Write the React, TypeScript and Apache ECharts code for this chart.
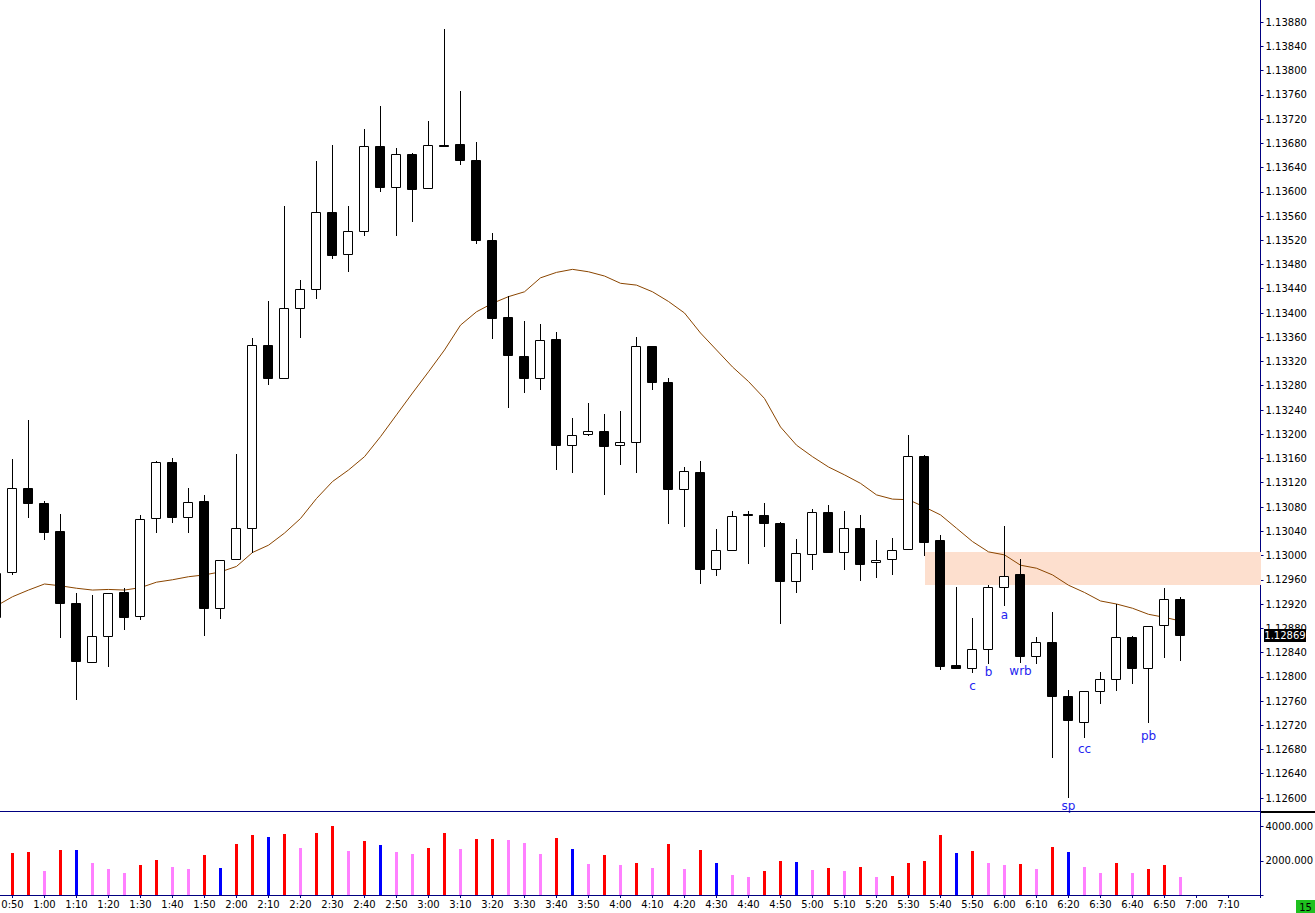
import React, { useEffect, useRef } from "react";
import * as echarts from "echarts";

// ---------- DATA ----------
const times = [
  "0:45", "0:50", "0:55", "1:00", "1:05", "1:10", "1:15", "1:20", "1:25", "1:30",
  "1:35", "1:40", "1:45", "1:50", "1:55", "2:00", "2:05", "2:10", "2:15", "2:20",
  "2:25", "2:30", "2:35", "2:40", "2:45", "2:50", "2:55", "3:00", "3:05", "3:10",
  "3:15", "3:20", "3:25", "3:30", "3:35", "3:40", "3:45", "3:50", "3:55", "4:00",
  "4:05", "4:10", "4:15", "4:20", "4:25", "4:30", "4:35", "4:40", "4:45", "4:50",
  "4:55", "5:00", "5:05", "5:10", "5:15", "5:20", "5:25", "5:30", "5:35", "5:40",
  "5:45", "5:50", "5:55", "6:00", "6:05", "6:10", "6:15", "6:20", "6:25", "6:30",
  "6:35", "6:40", "6:45", "6:50", "6:55",
];

const open = [
  1.12898, 1.12972, 1.13111, 1.13087, 1.1304, 1.12922, 1.12825, 1.12868, 1.1294, 1.129,
  1.13062, 1.13154, 1.13063, 1.1309, 1.12914, 1.12994, 1.13045, 1.13348, 1.13292, 1.13409,
  1.13439, 1.13566, 1.13497, 1.13535, 1.13675, 1.13608, 1.13662, 1.13606, 1.13677, 1.13678,
  1.13653, 1.1352, 1.13393, 1.13329, 1.13292, 1.13357, 1.13183, 1.132, 1.13205, 1.13183,
  1.13188, 1.13345, 1.13286, 1.13109, 1.13138, 1.12977, 1.13009, 1.13068, 1.13066, 1.13054,
  1.12958, 1.13003, 1.13071, 1.13005, 1.13045, 1.12989, 1.12994, 1.1301, 1.13164, 1.13026,
  1.12819, 1.12814, 1.12845, 1.12948, 1.1297, 1.12835, 1.12858, 1.12768, 1.12726, 1.12777,
  1.12796, 1.12865, 1.12815, 1.12885, 1.12928,
];

const high = [
  1.12983, 1.13159, 1.13224, 1.1309, 1.13068, 1.12938, 1.12935, 1.12938, 1.12946, 1.13066,
  1.13156, 1.13161, 1.13111, 1.13099, 1.12992, 1.13167, 1.13358, 1.1342, 1.13577, 1.13454,
  1.13651, 1.13677, 1.13577, 1.13704, 1.13741, 1.13672, 1.13664, 1.13717, 1.13868, 1.13766,
  1.13682, 1.13532, 1.13428, 1.13387, 1.13382, 1.13369, 1.13226, 1.13251, 1.13233, 1.13238,
  1.1336, 1.13345, 1.13292, 1.13146, 1.13156, 1.13044, 1.13073, 1.13073, 1.13087, 1.13055,
  1.13027, 1.13077, 1.13083, 1.13073, 1.13067, 1.13026, 1.13029, 1.13199, 1.13166, 1.13034,
  1.12948, 1.12897, 1.12951, 1.13049, 1.12994, 1.12865, 1.12907, 1.12778, 1.12776, 1.12808,
  1.1292, 1.12867, 1.12883, 1.12946, 1.12932,
];

const low = [
  1.12894, 1.1297, 1.13064, 1.13028, 1.12866, 1.12764, 1.12825, 1.12818, 1.12879, 1.12896,
  1.13038, 1.13056, 1.13039, 1.12869, 1.12897, 1.12994, 1.13006, 1.13283, 1.13292, 1.13361,
  1.13425, 1.13491, 1.1347, 1.13529, 1.13602, 1.13528, 1.13551, 1.13606, 1.13675, 1.13646,
  1.13516, 1.13358, 1.13245, 1.13269, 1.13274, 1.13142, 1.13138, 1.13198, 1.13102, 1.13151,
  1.13137, 1.13274, 1.13053, 1.13048, 1.12954, 1.12968, 1.13009, 1.12988, 1.13015, 1.12889,
  1.12939, 1.12978, 1.13005, 1.12977, 1.1296, 1.12965, 1.1297, 1.1301, 1.13001, 1.12812,
  1.12814, 1.12808, 1.12823, 1.12919, 1.12825, 1.12822, 1.12668, 1.12602, 1.12701, 1.12757,
  1.12778, 1.1279, 1.12726, 1.12833, 1.12828,
];

const close = [
  1.12971, 1.13111, 1.13087, 1.13039, 1.12921, 1.12826, 1.12868, 1.12938, 1.12899, 1.13061,
  1.13154, 1.13064, 1.13089, 1.12914, 1.12992, 1.13045, 1.13348, 1.13292, 1.13409, 1.13439,
  1.13566, 1.13495, 1.13535, 1.13675, 1.13608, 1.13663, 1.13605, 1.13677, 1.13677, 1.13653,
  1.1352, 1.13391, 1.1333, 1.13292, 1.13355, 1.13183, 1.13198, 1.13205, 1.13181, 1.13188,
  1.13345, 1.13287, 1.13109, 1.13139, 1.12978, 1.13009, 1.13065, 1.13066, 1.13054, 1.12958,
  1.13004, 1.13071, 1.13005, 1.13045, 1.12986, 1.12992, 1.13009, 1.13164, 1.13023, 1.12817,
  1.12814, 1.12845, 1.12948, 1.12967, 1.12835, 1.12858, 1.12769, 1.12728, 1.12776, 1.12796,
  1.12865, 1.12815, 1.12883, 1.12928, 1.12869,
];

const movingAverage = [
  1.12917, 1.12932, 1.12943, 1.12953, 1.1295, 1.12946, 1.12943, 1.12944, 1.12943, 1.12947,
  1.12956, 1.1296, 1.12965, 1.12968, 1.12973, 1.12982, 1.13005, 1.13017, 1.13037, 1.13061,
  1.13094, 1.13122, 1.13141, 1.13163, 1.13196, 1.13232, 1.13268, 1.13303, 1.13339, 1.1338,
  1.13402, 1.13416, 1.13427, 1.13435, 1.13458, 1.13467, 1.13472, 1.13468, 1.13461, 1.13449,
  1.13446, 1.13435, 1.13419, 1.134, 1.13367, 1.13339, 1.13311, 1.13287, 1.13259, 1.13212,
  1.13182, 1.13163, 1.13146, 1.13133, 1.13119, 1.131, 1.13093, 1.13092, 1.1308, 1.13067,
  1.13045, 1.13023, 1.13006, 1.13001, 1.12984, 1.12979, 1.12968, 1.12951, 1.12939, 1.12925,
  1.1292, 1.12913, 1.12903, 1.12898, 1.12892,
];

const volume = [
  2000, 2441, 2500, 1382, 2618, 2618, 1853, 1500, 1265, 1735,
  2029, 1618, 1500, 2324, 1559, 2971, 3500, 3382, 3559, 2735,
  3618, 4060, 2559, 3147, 2912, 2500, 2382, 2735, 3618, 2676,
  3265, 3265, 3206, 3029, 2382, 3324, 2676, 1794, 2324, 1735,
  1853, 1559, 2971, 1500, 2618, 1853, 1147, 1029, 1382, 1971,
  1912, 1441, 1559, 1382, 1618, 1029, 1088, 1853, 1971, 3500,
  2441, 2559, 1853, 1735, 1794, 1500, 2794, 2500, 1618, 1265,
  1853, 1265, 1500, 1735, 1029,
];

// r = red, p = pink, b = blue
const volumeKind = [
  "r", "r", "r", "p", "r", "b", "p", "p", "p", "r",
  "r", "p", "p", "r", "b", "r", "r", "b", "r", "p",
  "r", "r", "p", "r", "b", "p", "p", "r", "r", "p",
  "r", "r", "p", "p", "p", "r", "b", "p", "r", "p",
  "r", "p", "r", "p", "r", "b", "p", "p", "r", "r",
  "b", "p", "r", "p", "r", "p", "r", "r", "r", "r",
  "b", "r", "p", "p", "r", "p", "r", "b", "p", "p",
  "r", "p", "r", "r", "p",
];

const priceTickLabels = [
  "1.12600", "1.12640", "1.12680", "1.12720", "1.12760", "1.12800", "1.12840", "1.12880",
  "1.12920", "1.12960", "1.13000", "1.13040", "1.13080", "1.13120", "1.13160", "1.13200",
  "1.13240", "1.13280", "1.13320", "1.13360", "1.13400", "1.13440", "1.13480", "1.13520",
  "1.13560", "1.13600", "1.13640", "1.13680", "1.13720", "1.13760", "1.13800", "1.13840",
  "1.13880",
];

const annotationText = ["c", "b", "a", "wrb", "sp", "cc", "pb"];
const annotationTime = ["5:50", "5:55", "6:00", "6:05", "6:20", "6:25", "6:45"];
const annotationPrice = [1.12785, 1.12808, 1.12902, 1.12809, 1.12587, 1.12681, 1.12702];

const zoneStart = "5:35";
const zoneLow = 1.12952;
const zoneHigh = 1.13006;

// ---------- HELPERS ----------
const toMin = (s: string) => {
  const [h, m] = s.split(":").map(Number);
  return h * 60 + m;
};
const fmtTime = (v: number) => {
  const r = Math.round(v);
  if (r < 50 || r > 430) return "";
  const h = Math.floor(r / 60);
  const m = r % 60;
  return h + ":" + (m < 10 ? "0" : "") + m;
};
const FONT = '"DejaVu Sans", Tahoma, Verdana, sans-serif';
const X_MIN = 40;
const X_MAX = 440;
const volColors: Record<string, string> = { r: "#FF0000", p: "#FF80FF", b: "#0000FF" };

export default function App() {
  const ref = useRef<HTMLDivElement>(null);

  useEffect(() => {
    document.body.style.margin = "0";
    if (!ref.current) return;
    const chart = echarts.init(ref.current, undefined, { renderer: "svg" });

    const candleData = times.map((t, i) => [toMin(t), open[i], close[i], low[i], high[i]]);
    const maData = times.map((t, i) => [toMin(t), movingAverage[i]]);
    const volData = times.map((t, i) => [toMin(t), volume[i]]);
    const annData = annotationText.map((s, i) => [toMin(annotationTime[i]), annotationPrice[i], s]);
    const priceTicks = priceTickLabels.map(Number);
    const lastPrice = close[close.length - 1];

    const option: any = {
      animation: false,
      backgroundColor: "#ffffff",
      textStyle: { fontFamily: FONT },
      grid: [
        { left: -19.5, top: -2.25, width: 1280, height: 824.5, containLabel: false, outerBoundsMode: "none" },
        { left: -19.5, top: 812, width: 1280, height: 83, containLabel: false, outerBoundsMode: "none" },
      ],
      xAxis: [
        { type: "value", gridIndex: 0, min: X_MIN, max: X_MAX, show: false, splitLine: { show: false } },
        {
          type: "value",
          gridIndex: 1,
          min: X_MIN,
          max: X_MAX,
          interval: 10,
          splitLine: { show: false },
          axisLine: { show: true, lineStyle: { color: "#000080", width: 1 } },
          axisTick: { show: true, length: 3, lineStyle: { color: "#000080" } },
          axisLabel: {
            formatter: fmtTime,
            color: "#000",
            fontSize: 10,
            fontFamily: FONT,
            margin: 4,
            showMinLabel: true,
            showMaxLabel: true,
            hideOverlap: false,
          },
        },
      ],
      yAxis: [
        {
          type: "value",
          gridIndex: 0,
          position: "right",
          min: 1.1256,
          max: 1.1392,
          interval: 0.0004,
          scale: true,
          splitLine: { show: false },
          axisLine: { show: true, onZero: false, lineStyle: { color: "#000080", width: 1 } },
          axisTick: { show: true, length: 3, lineStyle: { color: "#000080" }, customValues: priceTicks },
          axisLabel: {
            customValues: priceTicks,
            formatter: (v: number) => (v < 1.12599 || v > 1.13881 ? "" : v.toFixed(5)),
            color: "#000",
            fontSize: 10,
            fontFamily: FONT,
            margin: 5,
            hideOverlap: false,
          },
        },
        {
          type: "value",
          gridIndex: 1,
          position: "right",
          min: 0,
          max: 4860,
          interval: 2000,
          splitLine: { show: false },
          axisLine: { show: true, onZero: false, lineStyle: { color: "#000080", width: 1 } },
          axisTick: { show: true, length: 3, lineStyle: { color: "#000080" } },
          axisLabel: {
            formatter: (v: number) => (v <= 0 || v > 4500 ? "" : v.toFixed(3)),
            color: "#000",
            fontSize: 10,
            fontFamily: FONT,
            margin: 5,
          },
        },
      ],
      series: [
        {
          type: "custom",
          name: "zone",
          xAxisIndex: 0,
          yAxisIndex: 0,
          z: 1,
          data: [[toMin(zoneStart), X_MAX, zoneLow, zoneHigh]],
          encode: { x: [0, 1], y: [2, 3] },
          renderItem: (params: any, api: any) => {
            const p1 = api.coord([api.value(0), api.value(3)]);
            const p2 = api.coord([api.value(1), api.value(2)]);
            return {
              type: "rect",
              shape: { x: Math.round(p1[0]), y: Math.round(p1[1]), width: Math.round(p2[0]) - Math.round(p1[0]), height: Math.round(p2[1]) - Math.round(p1[1]) },
              style: { fill: "#FDDFCE" },
            };
          },
        },
        {
          type: "line",
          name: "MA",
          xAxisIndex: 0,
          yAxisIndex: 0,
          z: 2,
          data: maData,
          symbol: "none",
          showSymbol: false,
          lineStyle: { color: "#8A4500", width: 1 },
        },
        {
          type: "custom",
          name: "candles",
          xAxisIndex: 0,
          yAxisIndex: 0,
          z: 3,
          data: candleData,
          encode: { x: 0, y: [1, 2, 3, 4] },
          renderItem: (params: any, api: any) => {
            const t = api.value(0);
            const o = api.value(1);
            const c = api.value(2);
            const l = api.value(3);
            const h = api.value(4);
            const po = api.coord([t, o]);
            const pc = api.coord([t, c]);
            const pl = api.coord([t, l]);
            const ph = api.coord([t, h]);
            const cx = Math.round(po[0] - 0.5) + 0.5;
            const top = Math.round(Math.min(po[1], pc[1])) + 0.5;
            const bot = Math.round(Math.max(po[1], pc[1])) + 0.5;
            const bull = c > o;
            return {
              type: "group",
              children: [
                {
                  type: "line",
                  shape: { x1: cx, y1: Math.round(ph[1]), x2: cx, y2: Math.round(pl[1]) + 1 },
                  style: { stroke: "#000", lineWidth: 1 },
                },
                {
                  type: "rect",
                  shape: { x: cx - 5, y: top, width: 9, height: Math.max(bot - top, 1) },
                  style: { fill: bull ? "#ffffff" : "#000000", stroke: "#000000", lineWidth: 1 },
                },
              ],
            };
          },
        },
        {
          type: "custom",
          name: "annotations",
          xAxisIndex: 0,
          yAxisIndex: 0,
          z: 4,
          clip: false,
          data: annData,
          encode: { x: 0, y: 1 },
          renderItem: (params: any, api: any) => {
            const p = api.coord([api.value(0), api.value(1)]);
            return {
              type: "text",
              x: p[0],
              y: p[1],
              style: {
                text: annotationText[params.dataIndex],
                fill: "#2424F0",
                font: "12px " + FONT,
                align: "center",
                verticalAlign: "middle",
              },
            };
          },
        },
        {
          type: "custom",
          name: "last",
          xAxisIndex: 0,
          yAxisIndex: 0,
          z: 10,
          clip: false,
          data: [[X_MAX, lastPrice]],
          encode: { x: 0, y: 1 },
          renderItem: (params: any, api: any) => {
            const p = api.coord([api.value(0), api.value(1)]);
            const x0 = Math.round(p[0]) + 3;
            const yc = Math.round(p[1]);
            return {
              type: "group",
              children: [
                { type: "rect", shape: { x: x0, y: yc - 6, width: 42, height: 13 }, style: { fill: "#000" } },
                {
                  type: "text",
                  x: x0 + 21,
                  y: yc + 0.5,
                  style: {
                    text: api.value(1).toFixed(5),
                    fill: "#fff",
                    font: "10px " + FONT,
                    align: "center",
                    verticalAlign: "middle",
                  },
                },
              ],
            };
          },
        },
        {
          type: "custom",
          name: "volume",
          xAxisIndex: 1,
          yAxisIndex: 1,
          z: 3,
          data: volData,
          encode: { x: 0, y: 1 },
          renderItem: (params: any, api: any) => {
            const t = api.value(0);
            const p = api.coord([t, api.value(1)]);
            const b = api.coord([t, 0]);
            const cx = Math.round(p[0] - 0.5) + 0.5;
            const yt = Math.round(p[1]);
            return {
              type: "rect",
              shape: { x: cx - 1.5, y: yt, width: 3, height: Math.round(b[1]) - yt },
              style: { fill: volColors[volumeKind[params.dataIndex]] },
            };
          },
        },
      ],
      graphic: [
        { type: "line", shape: { x1: 0, y1: 811.5, x2: 1260, y2: 811.5 }, style: { stroke: "#000080", lineWidth: 1 }, z: 20 },
        { type: "line", shape: { x1: 1261, y1: 812, x2: 1315, y2: 812 }, style: { stroke: "#000000", lineWidth: 2 }, z: 20 },
        { type: "rect", shape: { x: 1296, y: 900, width: 19, height: 13 }, style: { fill: "#1EC01E" }, z: 20 },
        {
          type: "text",
          x: 1305.5,
          y: 907,
          style: { text: "15", fill: "#000", font: "10px " + FONT, align: "center", verticalAlign: "middle" },
          z: 21,
        },
      ],
    };

    chart.setOption(option);
    return () => chart.dispose();
  }, []);

  return (
    <div
      ref={ref}
      style={{ position: "fixed", left: 0, top: 0, width: 1315, height: 913, background: "#fff" }}
    />
  );
}
